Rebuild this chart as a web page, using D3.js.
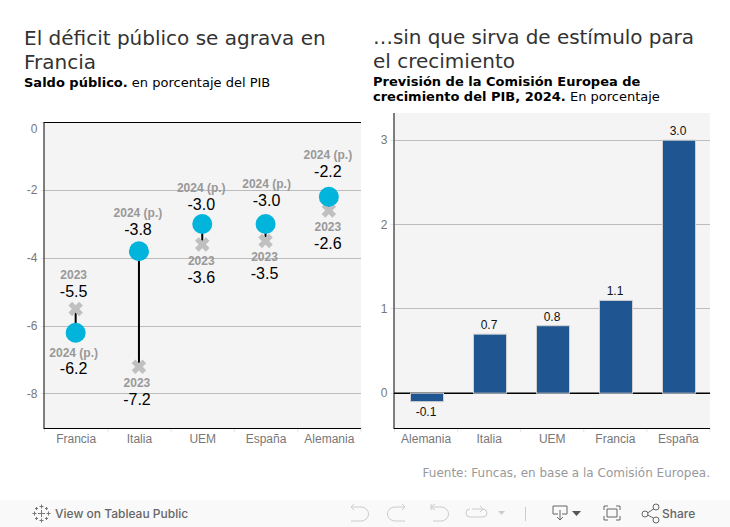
<!DOCTYPE html>
<html><head><meta charset="utf-8">
<script src="https://cdn.jsdelivr.net/npm/d3@7"></script>
<style>html,body{margin:0;padding:0;background:#fff;overflow:hidden}svg{display:block}</style>
</head><body><svg id="c" width="730" height="527"></svg>
<script>
const deficitCountries = ["Francia","Italia","UEM","España","Alemania"];
const deficit2023 = [-5.5,-7.2,-3.6,-3.5,-2.6];
const deficit2024 = [-6.2,-3.8,-3.0,-3.0,-2.2];
const deficitTicks = [0,-2,-4,-6,-8];
const growthCountries = ["Alemania","Italia","UEM","Francia","España"];
const growthValues = [-0.1,0.7,0.8,1.1,3.0];
const growthTicks = [0,1,2,3];

const svg = d3.select("#c");
const sans = "'Liberation Sans',Arial,sans-serif", dv = "'DejaVu Sans',sans-serif";
const fmt = v => v.toFixed(1);
const txt = (g,x,y,s,o={}) => g.append("text").attr("x",x).attr("y",y).text(s)
  .attr("font-family",o.f||sans).attr("font-size",o.s||12).attr("fill",o.c||"#000")
  .attr("font-weight",o.w||null).attr("text-anchor",o.a||"start");

// Headings
[[24,45,"El déficit público se agrava en"],[24,69,"Francia"],
 [373,44,"…sin que sirva de estímulo para"],[373,68,"el crecimiento"]]
 .forEach(d=>{const t=txt(svg,d[0],d[1],d[2],{f:dv,s:20,c:"#333"});
   if(d[0]>100&&d[2][0]==="…")t.attr("textLength",321).attr("lengthAdjust","spacing");});
function sub(x,y,b,r){const t=txt(svg,x,y,"",{f:dv,s:13});
  t.append("tspan").attr("font-weight","bold").text(b);
  if(r)t.append("tspan").text(r);}
sub(24,87,"Saldo público."," en porcentaje del PIB");
sub(373,86,"Previsión de la Comisión Europea de","");
sub(373,101,"crecimiento del PIB, 2024."," En porcentaje");

// Shared axis drawing
function panel(x,y,names,ticks,labelY){
  const [x0,x1]=x.range(), [yb,yt]=y.range();
  const g=svg.append("g");
  g.append("rect").attr("x",x0).attr("y",yt).attr("width",x1-x0).attr("height",yb-yt).attr("fill","#f4f4f4");
  g.selectAll(".gl").data(ticks).join("line").attr("x1",x0).attr("x2",x1)
    .attr("y1",d=>Math.floor(y(d))+.5).attr("y2",d=>Math.floor(y(d))+.5).attr("stroke","#bcbcbc");
  g.selectAll(".ty").data(ticks).join("line").attr("x1",x0-4).attr("x2",x0)
    .attr("y1",d=>Math.floor(y(d))+.5).attr("y2",d=>Math.floor(y(d))+.5).attr("stroke","#e6e6e6");
  g.selectAll(".tl").data(ticks).join("text").attr("x",x0-7).attr("y",labelY)
    .attr("text-anchor","end").attr("font-family",sans).attr("font-size",12).attr("fill","#777").text(d=>d);
  const step=x.step();
  d3.range(names.length+1).forEach(i=>g.append("line").attr("x1",x0+i*step).attr("x2",x0+i*step)
    .attr("y1",yb).attr("y2",yb+4).attr("stroke","#e6e6e6"));
  names.forEach(n=>txt(g,x(n)+x.bandwidth()/2,yb+15,n,{s:12,c:"#777",a:"middle"}));
  return g;
}
function frame(g,x,y,top){
  const [x0,x1]=x.range(), [yb,yt]=y.range();
  g.append("line").attr("x1",x0-.5).attr("x2",x0-.5).attr("y1",yt).attr("y2",yb+1).attr("stroke","#000");
  g.append("line").attr("x1",x0-.5).attr("x2",x1).attr("y1",yb+.5).attr("y2",yb+.5).attr("stroke","#000");
  if(top) g.append("line").attr("x1",x0-.5).attr("x2",x1).attr("y1",yt+.5).attr("y2",yt+.5).attr("stroke","#000");
}

// Left panel
const xL=d3.scaleBand().domain(deficitCountries).range([44.5,361]).padding(0);
const yL=d3.scaleLinear().domain([-9,0]).range([428,122]);
const gL=panel(xL,yL,deficitCountries,deficitTicks,d=>d===0?yL(d)+11:yL(d)+4);
frame(gL,xL,yL,true);
const cx=n=>xL(n)+xL.bandwidth()/2-.5;
deficitCountries.forEach((n,i)=>gL.append("line").attr("x1",cx(n)).attr("x2",cx(n))
  .attr("y1",yL(deficit2023[i])).attr("y2",yL(deficit2024[i])).attr("stroke","#000").attr("stroke-width",2));
deficitCountries.forEach((n,i)=>{
  const X=cx(n),Y=yL(deficit2023[i]),a=5.4;
  gL.append("path").attr("d",`M${X-a},${Y-a}L${X+a},${Y+a}M${X-a},${Y+a}L${X+a},${Y-a}`)
    .attr("stroke","#c0c0c0").attr("stroke-width",5.2).attr("fill","none");
  gL.append("circle").attr("cx",X).attr("cy",yL(deficit2024[i])).attr("r",10).attr("fill","#00b4dc");
});
// Label offsets from each mark: [dx, year label dy, value label dy]
const off23=[[-2,-30,-12],[-2,20,38],[-1,21,39],[-1,20,38],[-1,21,39]];
const off24=[[-2,24,41],[-1,-34,-16],[-1,-32,-14],[1,-36,-18],[-1,-38,-20]];
function labels(vals,offs,yr){
  deficitCountries.forEach((n,i)=>{
    const X=cx(n)+offs[i][0],Y=yL(vals[i]);
    txt(gL,X,Y+offs[i][1],yr,{s:12,c:"#999",w:"bold",a:"middle"});
    txt(gL,X,Y+offs[i][2],fmt(vals[i]),{s:16,c:"#000",a:"middle"});
  });
}
labels(deficit2023,off23,"2023");
labels(deficit2024,off24,"2024 (p.)");

// Right panel
const xR=d3.scaleBand().domain(growthCountries).range([394.5,710]).padding(0);
const yR=d3.scaleLinear().domain([-0.4127,3.3225]).range([428,113]);
const gR=panel(xR,yR,growthCountries,growthTicks,d=>yR(d)+4);
const bw=33;
gR.append("line").attr("x1",394).attr("x2",710).attr("y1",yR(0)).attr("y2",yR(0)).attr("stroke","#000").attr("stroke-width",1.4);
growthCountries.forEach((n,i)=>{
  const X=Math.round(xR(n)+xR.bandwidth()/2-bw/2)+.5,v=growthValues[i];
  gR.append("rect").attr("x",X).attr("y",Math.min(yR(v),yR(0))).attr("width",bw)
    .attr("height",Math.abs(yR(v)-yR(0))).attr("fill","#1f5591").attr("stroke","#d0d0d0").attr("stroke-width",1);
  txt(gR,X+bw/2-1,v<0?yR(v)+14:yR(v)-5,fmt(v),{s:12,c:"#111",a:"middle"});
});
frame(gR,xR,yR,false);

txt(svg,710,477,"Fuente: Funcas, en base a la Comisión Europea.",{f:dv,s:12,c:"#999",a:"end"});

// Toolbar
const tb=svg.append("g");
tb.append("rect").attr("x",0).attr("y",500).attr("width",730).attr("height",27).attr("fill","#f9f9f9");
txt(tb,55,518,"View on Tableau Public",{f:"Inter,"+sans,s:12,c:"#666",w:500});
txt(tb,662,518,"Share",{f:"Inter,"+sans,s:12,c:"#666",w:500});
const ic=(d,c="#666",w=1)=>tb.append("path").attr("d",d).attr("fill","none").attr("stroke",c).attr("stroke-width",w);
// logo
[[41.5,513.5,3.5],[36.5,508.5,1.5],[46.5,508.5,1.5],[36.5,518.5,1.5],[46.5,518.5,1.5],[41.5,506.5,2],[41.5,520.5,2],[34.5,513.5,2],[48.5,513.5,2]].forEach(d=>
  ic(`M${d[0]-d[2]},${d[1]}H${d[0]+d[2]}M${d[0]},${d[1]-d[2]}V${d[1]+d[2]}`,"#777"));
const lt="#ccc";
ic("M351,507H361A7,6.5 0 0 1 361,521H351M351,507l3,-3M351,507l3,3",lt);
ic("M405,507H395A7,6.5 0 0 0 395,521H405M405,507l-3,-3M405,507l-3,3",lt);
ic("M431,507H441A7,6.5 0 0 1 441,521H433M431,504V510M431,507l4,-3M431,507l4,3",lt);
ic("M472,509H483A4,4 0 0 1 483,517H470A4,4 0 0 1 470,509M483,509l-3,-3M483,509l-3,3",lt);
tb.append("path").attr("d","M498,511h7l-3.5,4z").attr("fill",lt);
ic("M525.5,507V521",lt);
ic("M558,514H553V506H567V514H562M560,510V520M557,517l3,3l3,-3");
tb.append("path").attr("d","M572,511h9l-4.5,5z").attr("fill","#555");
ic("M604,510V506H608M616,506H620V510M620,516V520H616M608,520H604V516M607,509H617V517H607Z");
ic("M646,514L655,508M646,514L655,519");
[[645,514],[656,507],[656,520]].forEach(d=>tb.append("circle").attr("cx",d[0]).attr("cy",d[1]).attr("r",3).attr("fill","#f9f9f9").attr("stroke","#666"));
</script></body></html>
